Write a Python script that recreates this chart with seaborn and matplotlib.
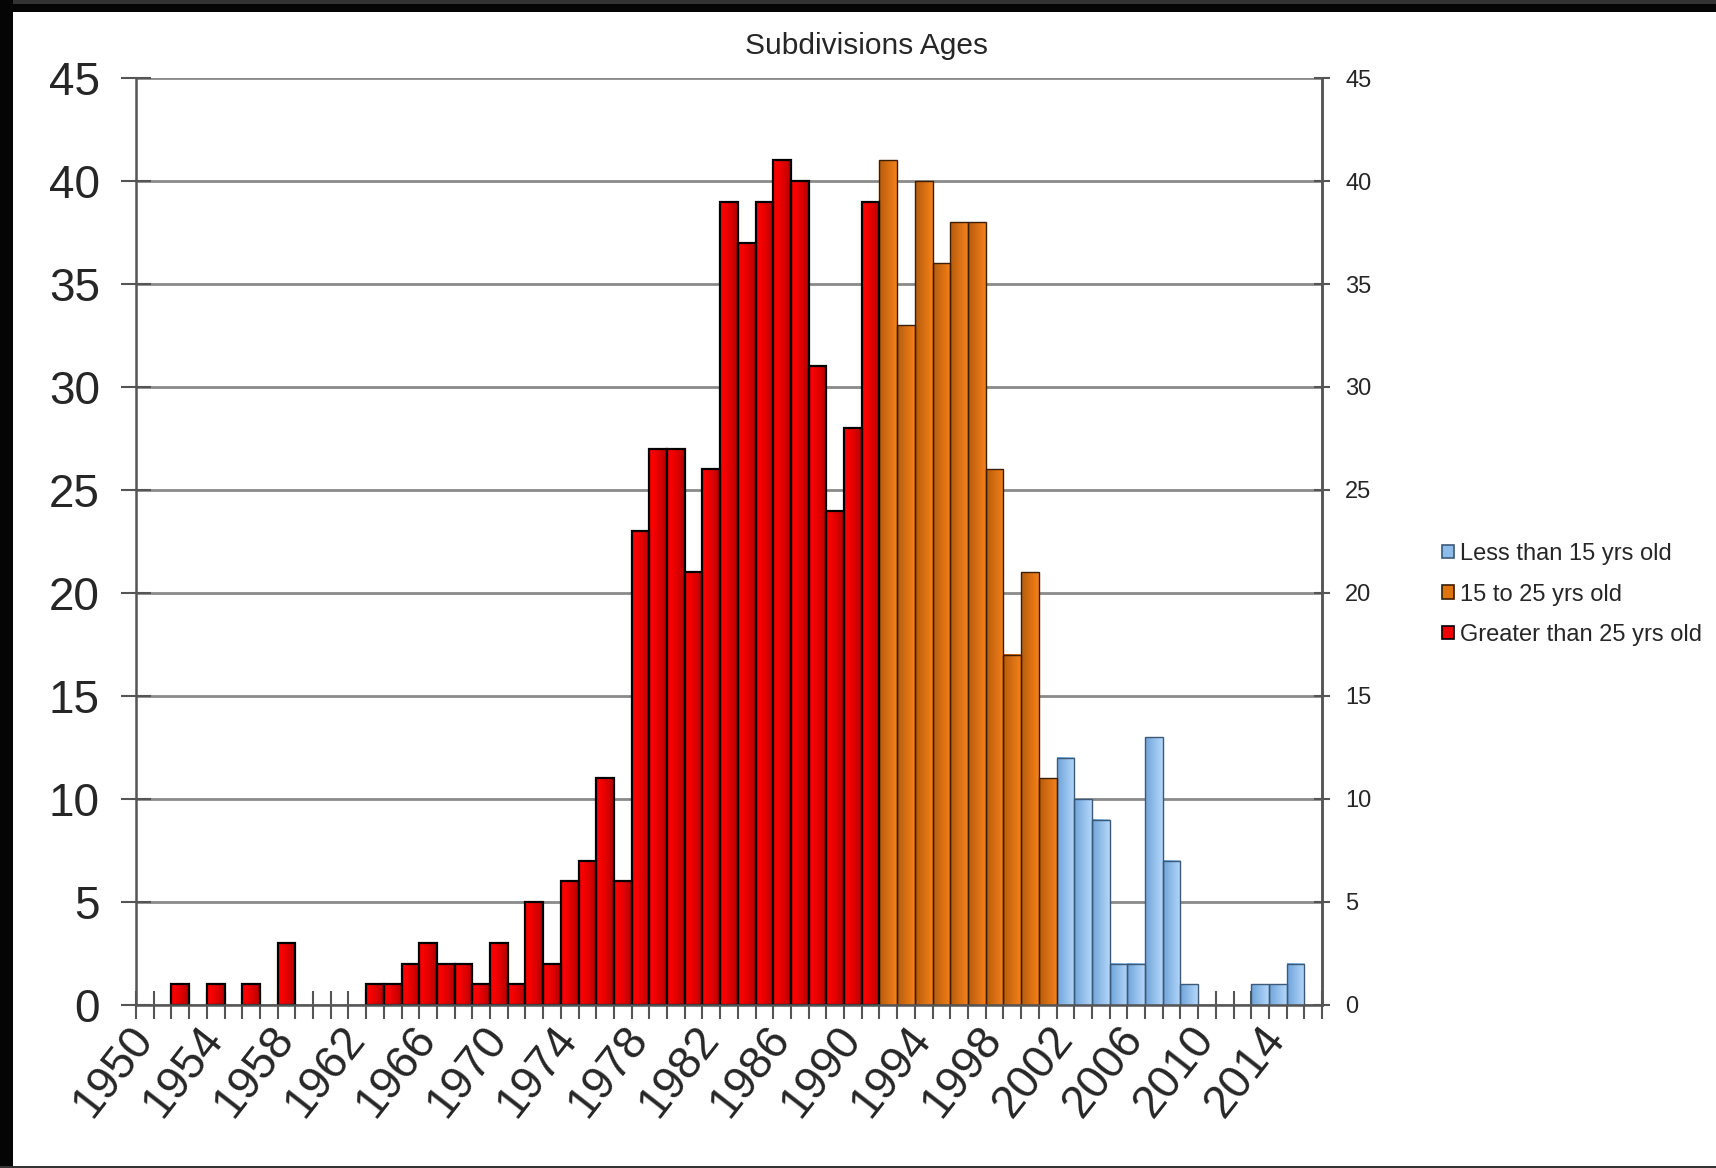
import numpy as np
import pandas as pd
import seaborn as sns
import matplotlib
matplotlib.use("Agg")
from matplotlib import pyplot as plt
from matplotlib.colors import to_rgb
from matplotlib.patches import Patch, Rectangle
from matplotlib.transforms import ScaledTranslation

old_years = [1952, 1954, 1956, 1958, 1963, 1964, 1965, 1966, 1967, 1968, 1969,
             1970, 1971, 1972, 1973, 1974, 1975, 1976, 1977, 1978, 1979, 1980,
             1981, 1982, 1983, 1984, 1985, 1986, 1987, 1988, 1989, 1990, 1991]
old_counts = [1, 1, 1, 3, 1, 1, 2, 3, 2, 2, 1,
              3, 1, 5, 2, 6, 7, 11, 6, 23, 27, 27,
              21, 26, 39, 37, 39, 41, 40, 31, 24, 28, 39]
mid_years = [1992, 1993, 1994, 1995, 1996, 1997, 1998, 1999, 2000, 2001]
mid_counts = [41, 33, 40, 36, 38, 38, 26, 17, 21, 11]
young_years = [2002, 2003, 2004, 2005, 2006, 2007, 2008, 2009, 2013, 2014, 2015]
young_counts = [12, 10, 9, 2, 2, 13, 7, 1, 1, 1, 2]

all_years = list(range(1950, 2017))
label_years = list(range(1950, 2017, 4))
groups = ["Less than 15 yrs old", "15 to 25 yrs old", "Greater than 25 yrs old"]
y_ticks = list(range(0, 46, 5))

# colours: flat legend colour, left/right gradient ends, edge colour, ramp power
colors = {
    groups[0]: ("#8DBCEB", "#6FA3DA", "#B4D8FA", "#3C5A78", 1.0),
    groups[1]: ("#E0740F", "#B65C0C", "#F5801A", "#3A1E05", 1.0),
    groups[2]: ("#F00000", "#FF0000", "#B20000", "#000000", 1.6),
}

df = pd.concat([
    pd.DataFrame({"year": young_years, "count": young_counts, "group": groups[0]}),
    pd.DataFrame({"year": mid_years, "count": mid_counts, "group": groups[1]}),
    pd.DataFrame({"year": old_years, "count": old_counts, "group": groups[2]}),
])
df["year"] = df["year"].astype(str)
group_of = dict(zip(df["year"], df["group"]))

sns.set_style("white")
plt.rcParams["font.family"] = ["Liberation Sans", "DejaVu Sans"]

fig = plt.figure(figsize=(17.16, 11.68), dpi=100)
ax = fig.add_axes([0.0793, 0.1396, 0.6911, 0.7936])

sns.barplot(data=df, x="year", y="count", hue="group",
            order=[str(y) for y in all_years], hue_order=groups,
            palette={g: colors[g][0] for g in groups},
            dodge=False, width=1.0, legend=False, ax=ax)

xlim = (-0.5, len(all_years) - 0.5)
# horizontal gradient fill on each bar, like the Excel shading
base = np.linspace(0, 1, 64)[None, :, None]
for p in list(ax.patches):
    h = p.get_height()
    if not h or np.isnan(h):
        continue
    idx = int(round(p.get_x() + p.get_width() / 2))
    g = group_of[str(all_years[idx])]
    _, c_left, c_right, c_edge, power = colors[g]
    ramp = base ** power
    grad = (1 - ramp) * np.array(to_rgb(c_left)) + ramp * np.array(to_rgb(c_right))
    ax.imshow(grad, extent=[p.get_x(), p.get_x() + p.get_width(), 0, h],
              aspect="auto", interpolation="bilinear", zorder=1.5)
    p.set_facecolor("none")
    p.set_edgecolor(c_edge)
    p.set_linewidth(1.6 if g == groups[2] else 1.0)
    p.set_zorder(2)

ax.set_xlim(*xlim)
ax.set_ylim(0, 45)
ax.set_xlabel("")
ax.set_ylabel("")

# y axis with gridlines
ax.set_yticks(y_ticks)
ax.set_yticklabels([str(v) for v in y_ticks], fontsize=33)
ax.grid(axis="y", color="#8A8A8A", linewidth=2)
ax.set_axisbelow(True)
ax.tick_params(axis="y", left=True, direction="inout", length=21, width=1.5,
               color="#555555", pad=15.5)

# x axis: tick marks between categories, labels every 4 years
ax.set_xticks(np.arange(-0.5, len(all_years), 1), minor=True)
ax.set_xticks([all_years.index(y) for y in label_years])
ax.set_xticklabels([str(y) for y in label_years], fontsize=33, rotation=52,
                   ha="right", va="top", rotation_mode="anchor")
ax.tick_params(axis="x", which="major", bottom=True, length=0, pad=9)
ax.tick_params(axis="x", which="minor", bottom=True, direction="inout",
               length=19.5, width=1.5, color="#555555")
shift = ScaledTranslation(-18 / 100, 0, fig.dpi_scale_trans)
for lab in ax.get_xticklabels():
    lab.set_transform(lab.get_transform() + shift)

for side in ["left", "bottom", "right"]:
    ax.spines[side].set_color("#555555")
    ax.spines[side].set_linewidth(1.8)
ax.spines["top"].set_visible(False)

# right hand axis repeats the scale in smaller type
ax2 = ax.twinx()
ax2.set_ylim(0, 45)
ax2.set_yticks(y_ticks)
ax2.set_yticklabels([str(v) for v in y_ticks], fontsize=17)
ax2.tick_params(axis="y", right=True, direction="inout", length=11.5, width=1.5,
                color="#555555", pad=11)
for side in ["left", "top", "bottom"]:
    ax2.spines[side].set_visible(False)
ax2.spines["right"].set_color("#555555")
ax2.spines["right"].set_linewidth(1.8)
ax2.grid(False)

fig.text(0.505, 0.961, "Subdivisions Ages", ha="center", va="center", fontsize=21.5)

handles = [Patch(facecolor=colors[g][0], edgecolor=colors[g][3], linewidth=1.2)
           for g in groups]
fig.legend(handles, groups, loc="center left", bbox_to_anchor=(0.8405, 0.491),
           frameon=False, fontsize=17, handlelength=0.5, handleheight=0.5,
           handletextpad=0.25, labelspacing=0.78, borderpad=0, borderaxespad=0)

# dark frame from the screenshot
fig.add_artist(Rectangle((0, 1 - 12 / 1168), 1, 12 / 1168, transform=fig.transFigure,
                         facecolor="#050505", edgecolor="none"))
fig.add_artist(Rectangle((0, 1 - 4 / 1168), 1, 4 / 1168, transform=fig.transFigure,
                         facecolor="#333333", edgecolor="none"))
fig.add_artist(Rectangle((0, 0), 13 / 1716, 1, transform=fig.transFigure,
                         facecolor="#050505", edgecolor="none"))
fig.add_artist(Rectangle((0, 0), 1, 2 / 1168, transform=fig.transFigure,
                         facecolor="#333333", edgecolor="none"))

fig.savefig("out.png", dpi=100)
